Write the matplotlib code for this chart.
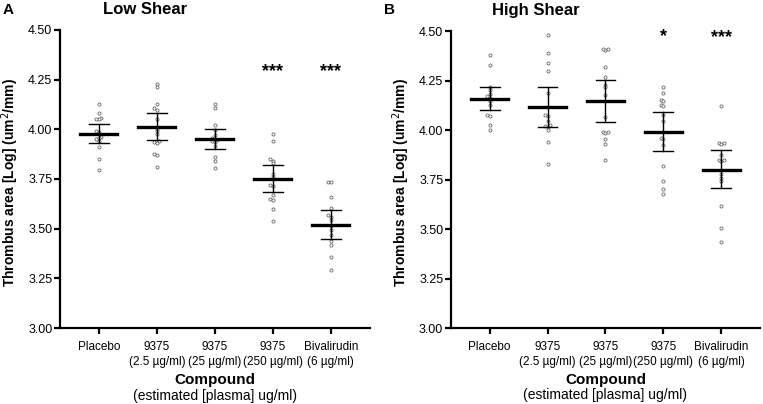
import matplotlib
matplotlib.use("Agg")
import matplotlib.pyplot as plt
import numpy as np

plt.rcParams['font.family'] = ['Liberation Sans', 'DejaVu Sans']

groups = ["Placebo", "9375\n(2.5 µg/ml)", "9375\n(25 µg/ml)", "9375\n(250 µg/ml)", "Bivalirudin\n(6 µg/ml)"]

# Low shear: individual values
low = [
    [4.125, 4.083, 4.055, 4.050, 4.052, 3.990, 3.985, 3.960, 3.955, 3.950, 3.940, 3.910, 3.850, 3.795],
    [4.228, 4.213, 4.125, 4.105, 4.098, 4.050, 4.003, 3.990, 3.975, 3.940, 3.935, 3.930, 3.878, 3.872, 3.810],
    [4.128, 4.108, 4.020, 3.995, 3.970, 3.955, 3.950, 3.945, 3.940, 3.935, 3.917, 3.862, 3.838, 3.805],
    [3.978, 3.942, 3.850, 3.842, 3.828, 3.775, 3.760, 3.720, 3.715, 3.667, 3.650, 3.645, 3.600, 3.537],
    [3.737, 3.733, 3.658, 3.603, 3.567, 3.560, 3.542, 3.513, 3.492, 3.467, 3.437, 3.420, 3.355, 3.292],
]
low_mean = [3.978, 4.012, 3.950, 3.750, 3.520]
low_hi = [4.028, 4.080, 4.003, 3.820, 3.595]
low_lo = [3.930, 3.945, 3.900, 3.683, 3.450]
low_stars = ["", "", "", "***", "***"]

# High shear: individual values
high = [
    [4.380, 4.327, 4.217, 4.200, 4.183, 4.170, 4.163, 4.147, 4.127, 4.078, 4.073, 4.025, 4.000],
    [4.478, 4.387, 4.338, 4.297, 4.188, 4.077, 4.072, 4.047, 4.025, 4.020, 4.018, 4.000, 3.938, 3.830],
    [4.410, 4.405, 4.408, 4.318, 4.268, 4.230, 4.217, 4.175, 4.067, 3.990, 3.985, 3.992, 3.955, 3.928, 3.847],
    [4.218, 4.185, 4.153, 4.147, 4.125, 4.123, 4.075, 4.047, 3.962, 3.955, 3.925, 3.817, 3.742, 3.702, 3.675],
    [4.122, 3.935, 3.930, 3.935, 3.872, 3.847, 3.845, 3.847, 3.780, 3.760, 3.742, 3.617, 3.505, 3.433],
]
high_mean = [4.158, 4.117, 4.147, 3.992, 3.800]
high_hi = [4.217, 4.217, 4.252, 4.093, 3.900]
high_lo = [4.103, 4.017, 4.042, 3.892, 3.708]
high_stars = ["", "", "", "*", "***"]


def swarm(vals, step=0.045, tol=0.012):
    # simple beeswarm: shift close points sideways
    order = np.argsort(vals)
    offs = np.zeros(len(vals))
    placed = []
    for i in order:
        for k in [0, -1, 1, -2, 2, -3, 3]:
            o = k * step
            if all(abs(vals[i] - vals[j]) > tol or abs(o - offs[j]) > step * 0.9 for j in placed):
                offs[i] = o
                break
        placed.append(i)
    return offs


def panel(ax, data, mean, hi, lo, stars, title, letter):
    x = np.arange(len(groups))
    for i, vals in enumerate(data):
        vals = np.array(vals)
        ax.scatter(i + swarm(vals), vals, s=5, facecolor='white', edgecolor='#666666',
                   linewidths=0.6, zorder=2)
        ax.plot([i, i], [lo[i], hi[i]], color='black', lw=1.0, zorder=3)
        ax.plot([i - 0.17, i + 0.17], [hi[i], hi[i]], color='black', lw=1.0, zorder=3)
        ax.plot([i - 0.17, i + 0.17], [lo[i], lo[i]], color='black', lw=1.0, zorder=3)
        ax.plot([i - 0.32, i + 0.32], [mean[i], mean[i]], color='black', lw=2.4, zorder=4)
    star_y = {"*": 4.47, "***": 4.29} if letter == "A" else {"*": 4.47, "***": 4.465}
    for i, s in enumerate(stars):
        if s:
            ax.text(i, star_y[s], s, ha='center', va='center', fontsize=13, fontweight='bold')
    ax.set_xlim(-0.67, 4.67)
    ax.set_ylim(3.0, 4.5)
    ax.set_yticks([3.0, 3.25, 3.5, 3.75, 4.0, 4.25, 4.5])
    ax.set_yticklabels(["%.2f" % v for v in ax.get_yticks()], fontsize=9)
    ax.set_xticks(x)
    ax.set_xticklabels(groups, fontsize=8.5, linespacing=1.35)
    ax.spines['top'].set_visible(False)
    ax.spines['right'].set_visible(False)
    ax.spines['left'].set_linewidth(1.6)
    ax.spines['bottom'].set_linewidth(1.6)
    ax.tick_params(axis='y', width=1.6, length=4.5, direction='out', pad=1)
    ax.tick_params(axis='x', width=1.6, length=4.5, direction='out', pad=5)
    ax.set_ylabel("Thrombus area [Log] (um$^2$/mm)", fontsize=10, fontweight='bold', labelpad=3)
    ax.yaxis.set_label_coords(-0.125, 0.49)
    ax.text(0.5, -0.175, "Compound", transform=ax.transAxes, ha='center', va='center',
            fontsize=11, fontweight='bold')
    ax.text(0.5, -0.227, "(estimated [plasma] ug/ml)", transform=ax.transAxes, ha='center',
            va='center', fontsize=10)
    ax.text(0.275, 1.07, title, transform=ax.transAxes, ha='center', va='center',
            fontsize=12, fontweight='bold')


fig = plt.figure(figsize=(7.63, 4.04), dpi=100)
ax1 = fig.add_axes([0.0786, 0.188, 0.406, 0.738])
ax2 = fig.add_axes([0.591, 0.188, 0.405, 0.735])
panel(ax1, low, low_mean, low_hi, low_lo, low_stars, "Low Shear", "A")
panel(ax2, high, high_mean, high_hi, high_lo, high_stars, "High Shear", "B")
fig.text(0.004, 0.975, "A", fontsize=11, fontweight='bold', va='center')
fig.text(0.503, 0.975, "B", fontsize=11, fontweight='bold', va='center')
fig.savefig("out.png", dpi=100)
